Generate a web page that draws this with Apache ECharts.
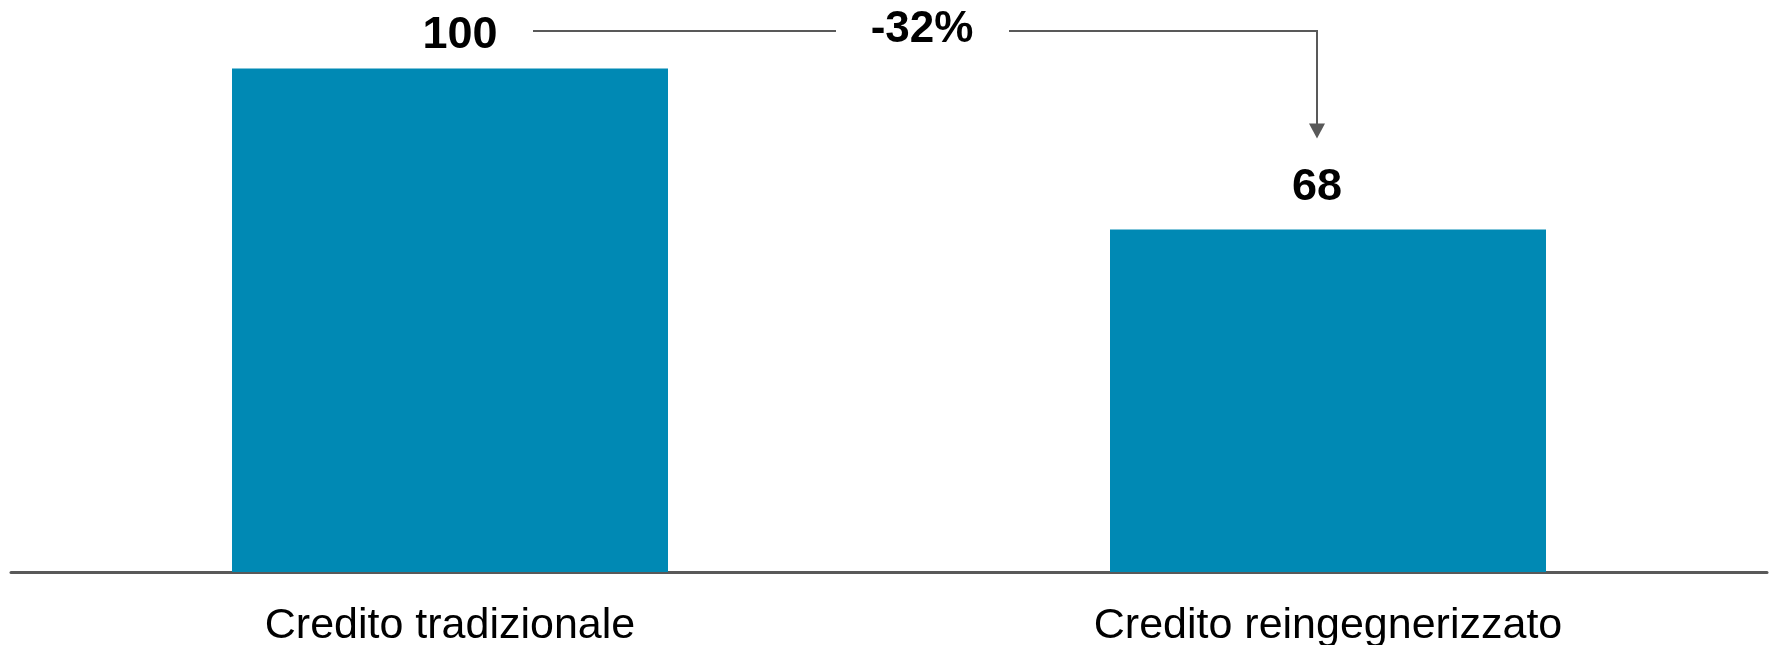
<!DOCTYPE html>
<html>
<head>
<meta charset="utf-8">
<script src="https://cdn.jsdelivr.net/npm/echarts@6/dist/echarts.min.js"></script>
<style>
html,body{margin:0;padding:0;background:#fff;}
#chart{width:1769px;height:645px;}
</style>
</head>
<body>
<div id="chart"></div>
<script>
const categories = ['Credito tradizionale', 'Credito reingegnerizzato'];
const values = [100, 68];
const changeLabel = '-32%';

const chart = echarts.init(document.getElementById('chart'));
const FONT = '"Liberation Sans", Arial, sans-serif';
const labelOffsets = [[10, 0], [-11, -10]];

chart.setOption({
  animation: false,
  backgroundColor: '#ffffff',
  grid: { left: 11, right: 2, top: 68.5, bottom: 73, containLabel: false, outerBoundsMode: 'none' },
  xAxis: {
    type: 'category',
    data: categories,
    axisLine: { show: true, lineStyle: { color: '#595959', width: 3 } },
    axisTick: { show: false },
    axisLabel: { fontSize: 43, color: '#000', fontFamily: FONT, margin: 33 }
  },
  yAxis: {
    type: 'value', min: 0, max: 100, show: false,
    splitLine: { show: false }
  },
  series: [{
    type: 'bar',
    barWidth: 436,
    itemStyle: { color: '#0089B4' },
    data: values.map((v, i) => ({
      value: v,
      label: { offset: labelOffsets[i] }
    })),
    label: {
      show: true, position: 'top', distance: 10,
      fontSize: 45, fontWeight: 'bold', color: '#000', fontFamily: FONT
    }
  }]
});

// Annotation arrow derived from the axis scale
const p0 = chart.convertToPixel({ gridIndex: 0 }, [0, values[0]]);
const p1 = chart.convertToPixel({ gridIndex: 0 }, [1, values[1]]);
const lineY = p0[1] - 37.5;
const arrowX = p1[0] - 11;
const tipY = p1[1] - 91;
const textX = p0[0] + 472;
const gray = '#595959';

chart.setOption({
  graphic: [
    { type: 'line', shape: { x1: p0[0] + 83, y1: lineY, x2: p0[0] + 386, y2: lineY },
      style: { stroke: gray, lineWidth: 2 } },
    { type: 'line', shape: { x1: p0[0] + 559, y1: lineY, x2: arrowX + 1, y2: lineY },
      style: { stroke: gray, lineWidth: 2 } },
    { type: 'line', shape: { x1: arrowX, y1: lineY - 1, x2: arrowX, y2: tipY - 14 },
      style: { stroke: gray, lineWidth: 2 } },
    { type: 'polygon', shape: { points: [[arrowX - 8, tipY - 15], [arrowX + 8, tipY - 15], [arrowX, tipY]] },
      style: { fill: gray } },
    { type: 'text', x: textX, y: lineY - 1,
      style: { text: changeLabel, fontSize: 44, fontWeight: 'bold', fill: '#000',
        fontFamily: FONT, align: 'center', verticalAlign: 'middle' } }
  ]
});
</script>
</body>
</html>
